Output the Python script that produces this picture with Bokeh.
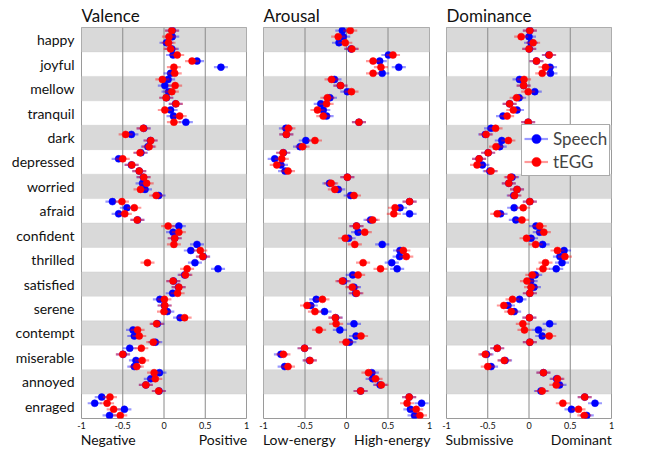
import numpy as np
from bokeh.plotting import figure
from bokeh.models import (Range1d, FixedTicker, BoxAnnotation, Span, Legend,
                          LegendItem, LinearAxis, ColumnDataSource)
from bokeh.layouts import row
from bokeh.embed import file_html
from bokeh.resources import INLINE

categories = ["happy", "joyful", "mellow", "tranquil", "dark", "depressed",
              "worried", "afraid", "confident", "thrilled", "satisfied",
              "serene", "contempt", "miserable", "annoyed", "enraged"]

panel_titles = ["Valence", "Arousal", "Dominance"]
low_labels = ["Negative", "Low-energy", "Submissive"]
high_labels = ["Positive", "High-energy", "Dominant"]
series_names = ["Speech", "tEGG"]
series_colors = ["#0000ff", "#ff0000"]
xticks = [-1, -0.5, 0, 0.5, 1]
xtick_labels = ["-1", "-0.5", "0", "0.5", "1"]
err_half = 0.085

# four measurements per category, per series
valence_speech = [
    [0.10, 0.10, 0.03, 0.095], [0.11, 0.40, 0.69, 0.08], [0.05, 0.01, 0.055, 0.03],
    [0.14, 0.08, 0.115, 0.265], [-0.245, -0.395, -0.165, -0.195], [-0.28, -0.55, -0.395, -0.30],
    [-0.25, -0.26, -0.23, -0.065], [-0.625, -0.45, -0.55, -0.32], [0.18, 0.11, 0.13, 0.40],
    [0.325, 0.475, 0.375, 0.655], [0.25, 0.115, 0.175, 0.105], [-0.05, 0.005, 0.04, 0.195],
    [-0.08, -0.375, -0.36, -0.105], [-0.415, -0.495, -0.34, -0.36], [-0.055, -0.16, -0.22, -0.06],
    [-0.755, -0.84, -0.48, -0.66]]
valence_tegg = [
    [0.095, 0.06, 0.055, 0.08], [0.16, 0.34, 0.12, 0.13], [-0.02, 0.135, 0.095, 0.025],
    [0.145, 0.01, 0.19, 0.12], [-0.25, -0.465, -0.16, -0.18], [-0.29, -0.50, -0.39, -0.30],
    [-0.245, -0.21, -0.285, -0.095], [-0.51, -0.36, -0.475, -0.325], [0.05, 0.18, 0.13, 0.12],
    [0.44, 0.47, -0.20, 0.28], [0.26, 0.11, 0.18, 0.165], [0.005, 0.01, 0.0, 0.25],
    [-0.09, -0.32, -0.30, -0.13], [-0.275, -0.50, -0.265, -0.33], [-0.12, -0.105, -0.22, -0.065],
    [-0.655, -0.69, -0.61, -0.53]]

arousal_speech = [
    [-0.05, -0.04, -0.09, 0.055], [0.505, 0.40, 0.63, 0.43], [-0.145, -0.075, 0.01, -0.20],
    [-0.31, -0.28, -0.24, 0.15], [-0.73, -0.725, -0.49, -0.56], [-0.76, -0.865, -0.79, -0.74],
    [0.01, -0.205, -0.10, 0.05], [0.76, 0.645, 0.76, 0.29], [0.12, 0.14, 0.025, 0.43],
    [0.645, 0.64, 0.545, 0.61], [0.075, -0.035, 0.09, 0.11], [-0.365, -0.43, -0.265, -0.13],
    [0.09, -0.08, 0.115, 0.035], [-0.505, -0.79, -0.445, -0.745], [0.305, 0.315, 0.405, 0.17],
    [0.755, 0.905, 0.77, 0.82]]
arousal_tegg = [
    [0.045, -0.10, -0.015, 0.065], [0.56, 0.32, 0.415, 0.32], [-0.18, -0.07, 0.06, -0.23],
    [-0.24, -0.35, -0.28, 0.15], [-0.70, -0.725, -0.38, -0.53], [-0.765, -0.78, -0.84, -0.705],
    [0.01, -0.185, -0.14, 0.09], [0.76, 0.585, 0.57, 0.315], [0.12, 0.22, -0.015, 0.10],
    [0.685, 0.72, 0.20, 0.41], [0.14, -0.05, 0.07, 0.12], [-0.29, -0.475, -0.38, -0.135],
    [-0.125, -0.33, 0.175, -0.005], [-0.505, -0.76, -0.44, -0.705], [0.265, 0.35, 0.42, 0.17],
    [0.755, 0.73, 0.84, 0.885]]

dominance_speech = [
    [0.01, 0.0, 0.025, 0.005], [0.24, 0.09, 0.255, 0.26], [-0.115, -0.065, 0.07, -0.12],
    [-0.235, -0.145, -0.315, -0.01], [-0.46, -0.53, -0.33, -0.355], [-0.495, -0.605, -0.565, -0.475],
    [-0.205, -0.245, -0.145, -0.185], [0.01, -0.18, -0.345, -0.16], [0.085, 0.13, 0.025, 0.165],
    [0.425, 0.375, 0.40, 0.33], [0.075, 0.02, 0.06, 0.01], [-0.115, -0.255, -0.18, 0.005],
    [0.25, 0.115, 0.16, 0.01], [-0.385, -0.515, -0.29, -0.46], [0.175, 0.335, 0.37, 0.145],
    [0.675, 0.80, 0.515, 0.70]]
dominance_tegg = [
    [0.01, -0.095, 0.05, 0.0], [0.245, 0.09, 0.20, 0.16], [-0.06, -0.065, -0.01, -0.15],
    [-0.235, -0.19, -0.265, -0.01], [-0.405, -0.52, -0.25, -0.40], [-0.495, -0.605, -0.63, -0.46],
    [-0.22, -0.245, -0.145, -0.175], [0.01, -0.07, -0.385, -0.085], [0.13, 0.18, -0.03, 0.08],
    [0.345, 0.435, 0.20, 0.17], [0.04, -0.025, 0.025, 0.01], [-0.20, -0.305, -0.215, 0.005],
    [-0.075, -0.055, 0.245, 0.01], [-0.385, -0.53, -0.30, -0.50], [0.175, 0.345, 0.33, 0.16],
    [0.675, 0.41, 0.60, 0.67]]

panels_data = [(valence_speech, valence_tegg),
               (arousal_speech, arousal_tegg),
               (dominance_speech, dominance_tegg)]

# layout constants: where the end words sit under each panel (axis units)
word_centres = [(-0.676, 0.715), (-0.569, 0.551), (-0.600, 0.634)]

FONT = "Lato"
H = 450
widths = [254, 183, 215]
borders_left = [81, 9, 9]
borders_right = [8, 8, 41]
n = len(categories)
per = 4


def make_panel(k):
    speech, tegg = panels_data[k]
    p = figure(width=widths[k], height=H, x_range=Range1d(-1, 1),
               y_range=Range1d(n, 0), output_backend="svg",
               toolbar_location=None,
               y_axis_location="left" if k == 0 else None,
               min_border_left=borders_left[k], min_border_right=borders_right[k],
               min_border_top=0, min_border_bottom=0)
    p.title.text = panel_titles[k]
    p.title.text_font = FONT
    p.title.text_font_size = "17px"
    p.title.text_font_style = "normal"
    p.title.align = "left"
    p.title.offset = 0
    p.title.standoff = 4
    p.title.text_color = "#111111"
    p.xgrid.visible = False
    p.ygrid.visible = False
    p.outline_line_color = "#9a9a9a"
    p.outline_line_width = 1
    p.background_fill_color = "white"
    p.border_fill_color = "white"

    for i in range(n):
        if i % 2 == 0:
            p.add_layout(BoxAnnotation(top=i, bottom=i + 1, fill_color="#d9d9d9",
                                       fill_alpha=1, line_color="#c4c4c4",
                                       line_width=1, level="underlay"))
    for t in xticks:
        if -1 < t < 1:
            p.add_layout(Span(location=t, dimension="height", line_color="#8a8a8a",
                              line_width=1, level="underlay"))

    ys = [i + (j + 0.5) / per for i in range(n) for j in range(per)]
    rends = []
    for vals, color in zip((speech, tegg), series_colors):
        xs = [v for grp in vals for v in grp]
        src = ColumnDataSource(dict(x=xs, y=ys,
                                    lo=[v - err_half for v in xs],
                                    hi=[v + err_half for v in xs]))
        seg = p.segment(x0="lo", y0="y", x1="hi", y1="y", source=src,
                        line_color=color, line_alpha=0.4, line_width=2.2)
        dot = p.scatter("x", "y", source=src, size=7, fill_color=color,
                        line_color=color, line_width=0.5)
        rends.append((seg, dot))

    xa = p.xaxis[0]
    xa.ticker = FixedTicker(ticks=xticks)
    xa.major_label_overrides = dict(zip(xticks, xtick_labels))
    xa.axis_line_color = None
    xa.major_tick_line_color = None
    xa.minor_tick_line_color = None
    xa.major_tick_out = 0
    xa.major_tick_in = 0
    xa.minor_tick_out = 0
    xa.major_label_standoff = 3
    xa.major_label_text_font = FONT
    xa.major_label_text_font_size = "9px"
    xa.major_label_text_color = "#111111"

    lo_c, hi_c = word_centres[k]
    ax2 = LinearAxis(ticker=FixedTicker(ticks=[lo_c, hi_c]),
                     major_label_overrides={lo_c: low_labels[k], hi_c: high_labels[k]},
                     axis_line_color=None, major_tick_line_color=None,
                     minor_tick_line_color=None, major_tick_out=0, major_tick_in=0,
                     minor_tick_out=0, major_label_standoff=-1,
                     major_label_text_font=FONT, major_label_text_font_size="14px",
                     major_label_text_color="#111111")
    p.add_layout(ax2, "below")

    if k == 0:
        ya = p.yaxis[0]
        ya.ticker = FixedTicker(ticks=[i + 0.5 for i in range(n)])
        ya.major_label_overrides = {i + 0.5: c for i, c in enumerate(categories)}
        ya.axis_line_color = None
        ya.major_tick_line_color = None
        ya.minor_tick_line_color = None
        ya.major_tick_out = 0
        ya.major_tick_in = 0
        ya.major_label_standoff = 7
        ya.major_label_text_font = FONT
        ya.major_label_text_font_size = "14px"
        ya.major_label_text_color = "#111111"

    if k == 2:
        items = [LegendItem(label=name, renderers=[seg, dot])
                 for name, (seg, dot) in zip(series_names, rends)]
        leg = Legend(items=items, location=(75, 242), padding=2, spacing=0,
                     glyph_width=24, glyph_height=23, label_height=23,
                     label_standoff=5, label_text_font=FONT,
                     label_text_font_size="17px", border_line_color="#555555",
                     border_line_width=1.2, background_fill_alpha=1,
                     margin=0)
        p.add_layout(leg, "center")
    return p


figs = [make_panel(k) for k in range(3)]
layout = row(*figs)
open("out.html", "w").write(file_html(layout, INLINE))
